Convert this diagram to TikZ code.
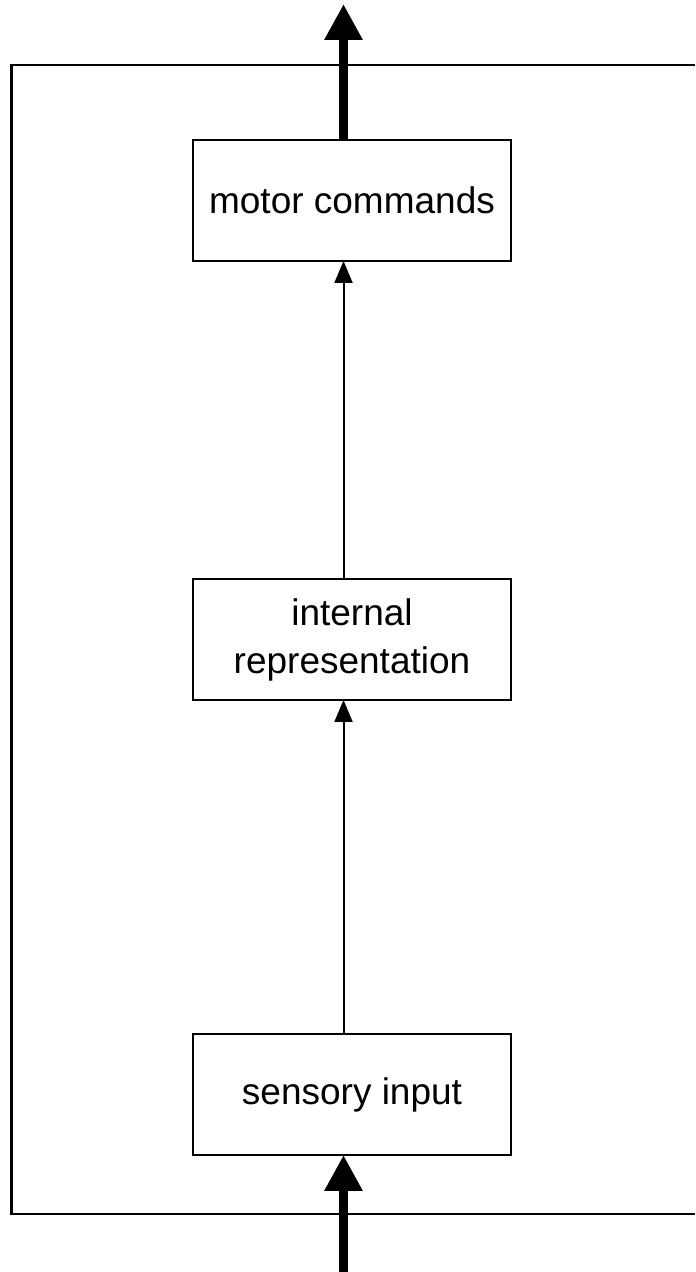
\documentclass[tikz,border=0pt]{standalone}
\usepackage{fontspec}
\setmainfont{Liberation Sans}
\usetikzlibrary{positioning,arrows.meta}

\begin{document}
\begin{tikzpicture}[
		x=0.5pt, y=0.5pt,
		box/.style={
			draw,
			line width=1pt,
			minimum width=159pt,
			minimum height=60.5pt,
			inner sep=0pt,
			outer sep=0pt,
			align=center,
			font=\fontsize{18.5}{24}\selectfont
		},
		link/.style={-{Triangle[width=9pt,length=11pt]}, line width=1pt},
		feed/.style={-{Triangle[width=18pt,length=18pt]}, line width=4.5pt}
		]
		
		\useasboundingbox (0,0) rectangle (695,1272);
		
		% open frame round the stages
		\draw[line width=1.2pt] (695,1207) -- (11.5,1207) -- (11.5,58) -- (695,58);
		
		\node[box] (motor) at (352,1071.5) {motor commands};
		
		\node[box] (internal) [below=159pt of motor] {internal\\representation};
		
		\node[box] (sensory) [below=167pt of internal] {sensory input};
		
		\coordinate (spine) at (343.5,0);
		\coordinate (out) at (343.5,1268);
		
		\draw[feed] (spine) -- (sensory.south -| spine);
		\draw[link] (sensory.north -| spine) -- (internal.south -| spine);
		\draw[link] (internal.north -| spine) -- (motor.south -| spine);
		\draw[feed] (motor.north -| spine) -- (out);
		
	\end{tikzpicture}
\end{document}
